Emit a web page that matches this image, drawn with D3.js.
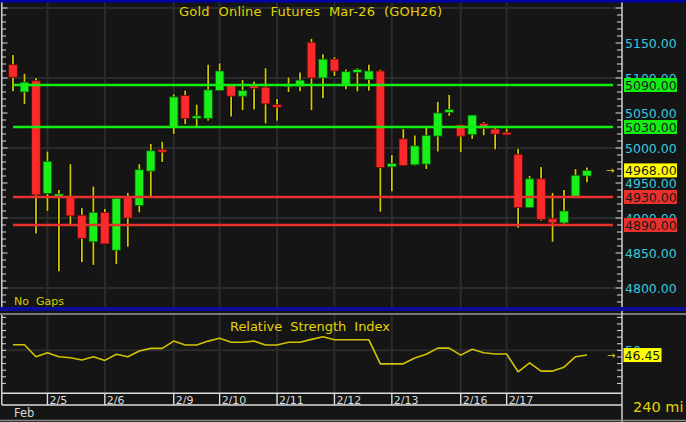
<!DOCTYPE html>
<html><head><meta charset="utf-8">
<script src="https://cdn.jsdelivr.net/npm/d3@7"></script>
<style>html,body{margin:0;padding:0;background:#151515;overflow:hidden}svg{display:block}</style>
</head><body><svg id="c" width="686" height="422"></svg>
<script>
// ---- data ----
const opens  = [5119,5080,5096,4935,4931,4929,4904,4866,4908,4854,4929,4918,4967,4997,5030,5075,5043,5042,5082,5090,5074,5088,5087,5061,5088,5088,5151,5100,5127,5091,5108,5098,5110,4973,5013,4976,4977,5017,5051,5033,5019,5035,5027,5022,4991,4915,4956,4899,4893,4931,4960];
const highs  = [5133,5106,5100,4995,4940,4977,4914,4945,4913,4928,4936,4977,5006,5009,5077,5082,5062,5119,5121,5090,5097,5095,5114,5070,5101,5108,5156,5134,5130,5112,5114,5119,5112,4990,5027,5018,5030,5066,5076,5033,5047,5037,5030,5028,4999,4960,4973,4936,4940,4970,4972];
const lows   = [5081,5063,4878,4910,4824,4891,4837,4833,4863,4834,4859,4908,4930,4980,5020,5034,5031,5039,5082,5045,5054,5055,5035,5039,5080,5081,5054,5071,5103,5084,5081,5082,4909,4938,4975,4975,4970,4995,5046,4994,5013,5018,4998,5019,4886,4915,4896,4866,4890,4931,4951];
const closes = [5101,5094,4933,4981,4934,4903,4871,4908,4863,4928,4900,4969,4996,4995,5073,5042,5045,5083,5110,5074,5082,5086,5063,5059,5091,5097,5100,5127,5110,5109,5112,5110,4972,4978,4975,5003,5018,5050,5055,5017,5047,5028,5020,5019,4915,4956,4898,4893,4910,4961,4968];
const rsiValues = [54.2,54.2,45.2,48.2,45.2,44.4,42.7,45.2,42.4,47.0,45.2,49.5,51.5,51.5,57.0,54.0,54.0,57.0,59.1,56.1,56.1,57.0,54.0,54.0,56.1,56.1,58.3,60.3,58.0,58.0,58.0,58.0,39.8,39.8,39.8,44.2,47.0,51.7,51.7,46.4,50.8,48.2,47.2,47.2,33.8,40.6,34.3,34.3,37.3,45.2,46.45];
const dayLabels = ["2/5","2/6","2/9","2/10","2/11","2/12","2/13","2/16","2/17"];
const dayStartBar = [3,8,14,18,23,28,33,39,43];
const resistanceLevels = [5090, 5030];
const supportLevels = [4930, 4890];
const priceTickLabels = [4800,4850,4900,4950,5000,5050,5100,5150];
const priceGrid = [4800,4900,5000,5100,5200];
const rsiTickLabels = [50];
const lastPrice = 4968;
const lastRsi = 46.45;
const titleText = "Gold  Online  Futures  Mar-26  (GOH26)";
const rsiTitle = "Relative  Strength  Index";

// ---- drawing ----
const svg = d3.select("#c");
const W = 686, H = 422;
const FONT = "DejaVu Sans, Verdana, sans-serif";
const BG = "#151515", GRID = "#2b2b2b", AXIS = "#dcdcdc";
const UP = "#19f019", DOWN = "#fb2a2a", WICK = "#d2c800", YEL = "#e2d400", CYAN = "#38c8dc";

const n = closes.length;
const x = d3.scalePoint().domain(d3.range(n)).range([13, 587]);
const y = d3.scaleLinear().domain([4800, 5000]).range([288, 148]);
const yr = d3.scaleLinear().domain([20, 76]).range([390, 316]);

svg.append("rect").attr("width", W).attr("height", H).attr("fill", BG);
// blue bars
svg.append("rect").attr("x",0).attr("y",0).attr("width",W).attr("height",2.5).attr("fill","#0000a8");
svg.append("rect").attr("x",0).attr("y",307).attr("width",W).attr("height",4).attr("fill","#0c0c98");

// ---- main panel grid ----
const main = svg.append("g");
main.selectAll("line.hg").data(priceGrid).join("line")
  .attr("x1", 3).attr("x2", 621).attr("y1", d => y(d)).attr("y2", d => y(d))
  .attr("stroke", GRID).attr("stroke-width", 2);
main.selectAll("line.vg").data(dayStartBar).join("line")
  .attr("x1", d => x(d)).attr("x2", d => x(d)).attr("y1", 2.5).attr("y2", 307)
  .attr("stroke", GRID).attr("stroke-width", 2);

// candles
const bars = d3.range(n).map(i => ({i, o: opens[i], h: highs[i], l: lows[i], c: closes[i]}));
const cg = main.append("g");
cg.selectAll("line.wb").data(bars).join("line")
  .attr("x1", d => x(d.i)).attr("x2", d => x(d.i))
  .attr("y1", d => y(d.h) - 0.5).attr("y2", d => y(d.l) + 0.5)
  .attr("stroke", "#000").attr("stroke-width", 3.4);
cg.selectAll("line.w").data(bars).join("line")
  .attr("x1", d => x(d.i)).attr("x2", d => x(d.i))
  .attr("y1", d => y(d.h)).attr("y2", d => y(d.l))
  .attr("stroke", WICK).attr("stroke-width", 1.8);
cg.selectAll("rect.b").data(bars).join("rect")
  .attr("x", d => x(d.i) - 4.3).attr("width", 8.6)
  .attr("y", d => { const t = y(Math.max(d.o, d.c)), b = y(Math.min(d.o, d.c)); return b - t < 2.5 ? (t + b) / 2 - 1.25 : t; })
  .attr("height", d => Math.max(2.5, y(Math.min(d.o, d.c)) - y(Math.max(d.o, d.c))))
  .attr("fill", d => d.c >= d.o ? UP : DOWN)
  .attr("stroke", d => d.c >= d.o ? "#0a5a0a" : "#6a0a0a").attr("stroke-width", 0.8);

// level lines
main.selectAll("line.res").data(resistanceLevels).join("line")
  .attr("x1", 13).attr("x2", 613).attr("y1", d => y(d)).attr("y2", d => y(d))
  .attr("stroke", "#12ee12").attr("stroke-width", 2.4);
main.selectAll("line.sup").data(supportLevels).join("line")
  .attr("x1", 13).attr("x2", 613).attr("y1", d => y(d)).attr("y2", d => y(d))
  .attr("stroke", "#e8302c").attr("stroke-width", 2.6);

// axes lines and minor ticks (main)
const minor = d3.range(4780, 5210, 10);
main.append("line").attr("x1", 1.8).attr("x2", 1.8).attr("y1", 2.5).attr("y2", 307).attr("stroke", AXIS).attr("stroke-width", 1.4);
main.append("line").attr("x1", 622).attr("x2", 622).attr("y1", 2.5).attr("y2", 307).attr("stroke", AXIS).attr("stroke-width", 1.4);
main.selectAll("line.lt").data(minor).join("line")
  .attr("x1", 2).attr("x2", d => d % 50 === 0 ? 7.5 : 6).attr("y1", d => y(d)).attr("y2", d => y(d))
  .attr("stroke", AXIS).attr("stroke-width", 1);
main.selectAll("line.rt").data(minor).join("line")
  .attr("x1", 622).attr("x2", d => d % 50 === 0 ? 615.5 : 617).attr("y1", d => y(d)).attr("y2", d => y(d))
  .attr("stroke", AXIS).attr("stroke-width", 1);

// price labels
main.selectAll("text.pl").data(priceTickLabels).join("text")
  .attr("x", 625).attr("y", d => y(d)).attr("dy", "0.36em")
  .attr("font-family", FONT).attr("font-size", 12.5).attr("fill", CYAN)
  .text(d => d3.format(".2f")(d));

function tagBox(g, val, yy, bg) {
  g.append("rect").attr("x", 624).attr("y", yy - 7).attr("width", 53).attr("height", 14).attr("fill", bg);
  g.append("text").attr("x", 625).attr("y", yy).attr("dy", "0.36em")
    .attr("font-family", FONT).attr("font-size", 12.5).attr("fill", "#1a1a1a")
    .text(d3.format(".2f")(val));
}
resistanceLevels.forEach(v => tagBox(main, v, y(v), "#12ee12"));
supportLevels.forEach(v => tagBox(main, v, y(v), "#e8302c"));
tagBox(main, lastPrice, y(lastPrice), "#ffff00");
main.append("text").attr("x", 606).attr("y", y(lastPrice)).attr("dy", "0.35em")
  .attr("font-family", FONT).attr("font-size", 10).attr("fill", YEL).text("→");

// title & note
svg.append("text").attr("x", 179).attr("y", 15.5).attr("font-family", FONT).attr("font-size", 13)
  .attr("fill", YEL).attr("textLength", 263).attr("lengthAdjust", "spacing")
  .style("white-space", "pre").text(titleText);
svg.append("text").attr("x", 14).attr("y", 304.5).attr("font-family", FONT).attr("font-size", 11)
  .attr("fill", "#d4cc00").style("white-space", "pre").text("No  Gaps");

// ---- RSI panel ----
const rp = svg.append("g");
rp.append("line").attr("x1", 0).attr("x2", W).attr("y1", 314).attr("y2", 314).attr("stroke", "#9a9a9a").attr("stroke-width", 1.5);
rp.selectAll("line.rg").data(rsiTickLabels).join("line")
  .attr("x1", 3).attr("x2", 621).attr("y1", d => yr(d)).attr("y2", d => yr(d))
  .attr("stroke", GRID).attr("stroke-width", 2);
rp.selectAll("line.rv").data(dayStartBar).join("line")
  .attr("x1", d => x(d)).attr("x2", d => x(d)).attr("y1", 315).attr("y2", 393)
  .attr("stroke", GRID).attr("stroke-width", 2);
const rsiTicks = d3.range(25, 80, 5);
rp.append("line").attr("x1", 1.8).attr("x2", 1.8).attr("y1", 315).attr("y2", 405).attr("stroke", AXIS).attr("stroke-width", 1.4);
rp.append("line").attr("x1", 622).attr("x2", 622).attr("y1", 311).attr("y2", H).attr("stroke", AXIS).attr("stroke-width", 1.4);
rp.selectAll("line.rlt").data(rsiTicks).join("line")
  .attr("x1", 2).attr("x2", 6).attr("y1", d => yr(d)).attr("y2", d => yr(d)).attr("stroke", AXIS);
rp.selectAll("line.rrt").data(rsiTicks).join("line")
  .attr("x1", 622).attr("x2", 617).attr("y1", d => yr(d)).attr("y2", d => yr(d)).attr("stroke", AXIS);

const rline = d3.line().x((d, i) => x(i)).y(d => yr(d));
rp.append("path").datum(rsiValues).attr("d", rline).attr("fill", "none")
  .attr("stroke", "#cfc400").attr("stroke-width", 1.6).attr("stroke-linejoin", "round");

rp.append("text").attr("x", 230).attr("y", 331).attr("font-family", FONT).attr("font-size", 13)
  .attr("fill", YEL).attr("textLength", 160).attr("lengthAdjust", "spacing")
  .style("white-space", "pre").text(rsiTitle);

rp.selectAll("text.rl").data(rsiTickLabels).join("text")
  .attr("x", 625).attr("y", d => yr(d)).attr("dy", "0.36em")
  .attr("font-family", FONT).attr("font-size", 12.5).attr("fill", CYAN).text(d => d);
rp.append("rect").attr("x", 623.5).attr("y", yr(lastRsi) - 7).attr("width", 38).attr("height", 14).attr("fill", "#ffff00");
rp.append("text").attr("x", 624.5).attr("y", yr(lastRsi)).attr("dy", "0.36em")
  .attr("font-family", FONT).attr("font-size", 12.5).attr("fill", "#1a1a1a").text(d3.format(".2f")(lastRsi));
rp.append("text").attr("x", 607).attr("y", yr(lastRsi)).attr("dy", "0.35em")
  .attr("font-family", FONT).attr("font-size", 10).attr("fill", YEL).text("→");

// ---- date axis ----
const da = svg.append("g");
da.append("line").attr("x1", 2).attr("x2", 622).attr("y1", 393.3).attr("y2", 393.3).attr("stroke", AXIS).attr("stroke-width", 1.4);
da.append("line").attr("x1", 2).attr("x2", 622).attr("y1", 405).attr("y2", 405).attr("stroke", AXIS).attr("stroke-width", 1.4);
da.selectAll("line.dt").data(dayStartBar).join("line")
  .attr("x1", d => x(d)).attr("x2", d => x(d)).attr("y1", 393).attr("y2", 405)
  .attr("stroke", AXIS).attr("stroke-width", 1.4);
da.selectAll("text.dl").data(dayLabels).join("text")
  .attr("x", (d, i) => x(dayStartBar[i]) + 2).attr("y", 404)
  .attr("font-family", FONT).attr("font-size", 11).attr("fill", "#d8d8d8").text(d => d);
da.append("text").attr("x", 14).attr("y", 417).attr("font-family", FONT).attr("font-size", 11.5)
  .attr("fill", "#d8d8d8").text("Feb");
da.append("line").attr("x1", 0).attr("x2", W).attr("y1", 420.5).attr("y2", 420.5).attr("stroke", "#8a8a8a").attr("stroke-width", 1.4);
da.append("text").attr("x", 633).attr("y", 412).attr("font-family", FONT).attr("font-size", 14.5)
  .attr("fill", YEL).style("white-space", "pre").text("240 mi");
</script></body></html>
